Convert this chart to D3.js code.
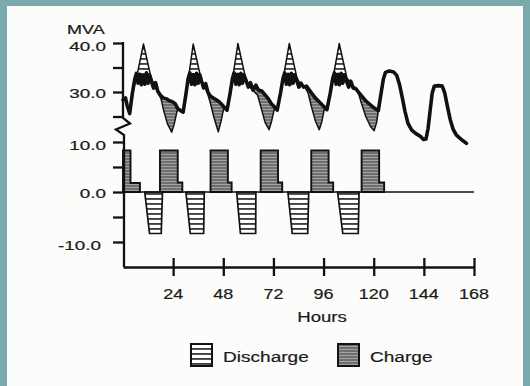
<!DOCTYPE html>
<html>
<head>
<meta charset="utf-8">
<script src="https://cdnjs.cloudflare.com/ajax/libs/d3/7.8.5/d3.min.js"></script>
<style>
body { margin: 0; }
svg { display: block; }
text { font-family: "Liberation Sans", Arial, sans-serif; fill: #1b1b1b; stroke: #1b1b1b; stroke-width: 0.2px; }
</style>
</head>
<body>
<div id="chart-area"></div>
<script>
// load with storage (thick line), [hour, MVA]
var netLoad = [
    [0,28.4],[1.2,28.8],[2,27.2],[3.2,25.6],[4.4,29.5],[5.6,32.6],[6.4,33.8],[7.2,31.8],[8,33.6],[8.8,31.5],[9.6,33.3],[10.4,31.6],[11.2,33.9],[12,31.8],[12.8,33.4],[13.6,32.2],[14.6,30.8],[15.6,31.9],[16.6,30.2],[17.8,29.4],[19.2,28.8],[20.8,28.6],[22.2,28.2],[23.6,28],[25,27.6],[26.2,26.6],[27.6,26.2],[28.8,25.9],
    [30.2,29.8],[31.2,32.8],[32,33.9],[32.8,31.6],[33.6,33.5],[34.4,31.5],[35.2,33.8],[36,31.8],[36.8,33.5],[37.6,32.2],[38.6,30.8],[39.6,31.7],[40.6,30],[41.8,29.2],[43.2,28.8],[44.6,28.4],[46,28],[47.4,27.4],[48.6,26.8],[49.8,26.3],
    [51.2,29.6],[52.4,32.8],[53.2,33.9],[54,31.6],[54.8,33.6],[55.6,31.5],[56.4,33.8],[57.2,31.8],[58,33.4],[59,32.2],[60,31],[61,31.9],[62.2,30.4],[63.6,31.4],[64.8,30.4],[66.4,30.2],[68,29.4],[69.6,28.6],[71,27.6],[72.4,27],[73.8,26.3],
    [75.4,29.8],[76.6,32.8],[77.4,33.9],[78.2,31.6],[79,33.6],[79.8,31.5],[80.6,33.8],[81.4,31.8],[82.2,33.4],[83.2,32.2],[84.2,31],[85.2,31.8],[86.4,31],[87.8,31.2],[89.2,30.4],[90.6,29.6],[92,28.8],[93.4,28.2],[94.8,27.6],[96.2,27],[97.6,26.4],
    [99.2,29.8],[100.4,32.8],[101.2,33.9],[102,31.6],[102.8,33.6],[103.6,31.5],[104.4,33.8],[105.2,31.8],[106,33.4],[107,32.2],[108,31],[109,32.2],[110.2,30.8],[111.6,30.6],[113,29.8],[114.6,29],[116.2,28.2],[117.8,27.6],[119.4,27],[120.8,26.6],[122.2,26.2],
    [123.4,29.4],[124.6,32.6],[125.6,34],[127.5,34.3],[129.5,34.1],[131,33.4],[132.3,31.6],[133.6,29],[135,26],[136.4,23.6],[138.2,22.2],[140.2,21.5],[142.2,21],[143.8,20.3],[145,20.4],[146,22.5],[147,26.2],[148,29.8],[149,31.2],[151,31.3],[152.8,31.2],[154,29.8],[155.2,27.2],[156.6,24.4],[158,22.4],[159.6,21.2],[161.2,20.6],[162.6,20.1],[164.4,19.5]
];

// load without storage (thin line), [hour, MVA]
var baseLoad = [
    [0,28.4],[1.2,28.8],[2,27.2],[3.2,25.6],[4.4,29.5],[6.6,33.2],[9.8,39.8],[13.4,33],[15,31.4],[16.6,30],[18.2,28.6],[19.6,26],[21.2,23.6],[23.3,21.8],[24.6,23.6],[25.8,26],[26.6,26.4],[28.8,25.9],
    [31.2,32.4],[33.6,39.8],[37.2,33],[38.8,31.4],[40.4,29.8],[41.8,27.8],[43.4,25],[45.6,21.9],[46.8,23.8],[48.2,26.6],[49.8,26.3],
    [52.4,32.6],[55,39.9],[58.6,33],[60.4,31.2],[62.4,30.2],[64.4,29.4],[66.2,26.6],[68,23.8],[69.9,22.3],[71.2,24.2],[72.6,26.8],[73.8,26.3],
    [76.6,32.6],[79.6,39.9],[83.2,33],[85,31.4],[87,31],[88.6,29.8],[90.2,27],[92,24.2],[93.9,22.3],[95.2,24],[96.4,26.6],[97.6,26.4],
    [100.4,32.6],[103.5,39.9],[107.1,33],[109,31.6],[111,31],[112.4,30.2],[114.2,27.6],[116.2,25],[118.4,23],[120.2,22.1],[121.4,23.8],[122.2,26.2]
];

// charge: [start, end of full rate, end of tail, full MVA, tail MVA]
var chargeBlocks = [
    [0, 3.6, 8.1, 8.3, 1.8],
    [17.7, 26.2, 28.4, 8.3, 1.9],
    [41.9, 50.2, 52, 8.3, 1.9],
    [65.9, 74.2, 76.2, 8.3, 1.9],
    [90.1, 98.4, 100.6, 8.3, 1.9],
    [114.2, 122.6, 125, 8.3, 1.9]
];

// discharge: [start, ramp end, flat end, end, MVA]
var dischargeBlocks = [
    [10.4, 12.7, 18.3, 18.9, 8.3],
    [30.1, 32.2, 38.6, 38.9, 8.3],
    [54.4, 56.2, 63.5, 63.6, 8.3],
    [78.9, 81, 88.4, 88.9, 8.3],
    [102.7, 105.2, 112.6, 113, 8.3]
];

var xTicks = [24, 48, 72, 96, 120, 144, 168];
var topTicks = [25, 30, 35, 40];
var topLabels = [30, 40];
var bottomTicks = [-10, -5, 0, 5, 10];
var bottomLabels = [-10, 0, 10];
var legendItems = ["Discharge", "Charge"];

var width = 530, height = 386;

var svg = d3.select("#chart-area").append("svg")
    .attr("width", width)
    .attr("height", height);

// slide frame
svg.append("rect").attr("width", width).attr("height", height).attr("fill", "#7aaaae");
svg.append("rect").attr("x", 7).attr("y", 6).attr("width", width - 14).attr("height", height - 6).attr("fill", "#fcfcfa");

var xScale = d3.scaleLinear().domain([0, 168]).range([123, 474]);
var yTop = d3.scaleLinear().domain([20, 40]).range([141, 43]);
var yBottom = d3.scaleLinear().domain([-15, 10]).range([267, 142]);

var defs = svg.append("defs");

var stripes = defs.append("pattern")
    .attr("id", "stripes")
    .attr("patternUnits", "userSpaceOnUse")
    .attr("width", 8)
    .attr("height", 5);
stripes.append("rect").attr("width", 8).attr("height", 5).attr("fill", "#fff");
stripes.append("rect").attr("y", 3.2).attr("width", 8).attr("height", 1.5).attr("fill", "#111");

var shade = defs.append("pattern")
    .attr("id", "shade")
    .attr("patternUnits", "userSpaceOnUse")
    .attr("width", 8)
    .attr("height", 3);
shade.append("rect").attr("width", 8).attr("height", 3).attr("fill", "#6f6f6f");
shade.append("rect").attr("y", 1).attr("width", 8).attr("height", 1).attr("fill", "#a2a2a2");

var hx = function(d) { return xScale(d[0]); };

defs.append("clipPath").attr("id", "above-net")
    .append("path")
    .attr("d", d3.area().x(hx).y0(20).y1(function(d) { return yTop(d[1]); })(netLoad));

defs.append("clipPath").attr("id", "below-net")
    .append("path")
    .attr("d", d3.area().x(hx).y0(function(d) { return yTop(d[1]); }).y1(160)(netLoad));

// discharge: base above net
svg.append("path")
    .attr("d", d3.area().x(hx).y0(function(d) { return yTop(d[1]); }).y1(160)(baseLoad))
    .attr("fill", "url(#stripes)")
    .attr("clip-path", "url(#above-net)");

// charge: net above base
svg.append("path")
    .attr("d", d3.area().x(hx).y0(20).y1(function(d) { return yTop(d[1]); })(baseLoad))
    .attr("fill", "url(#shade)")
    .attr("clip-path", "url(#below-net)");

var topLine = d3.line().x(hx).y(function(d) { return yTop(d[1]); });

svg.append("path")
    .attr("d", topLine(baseLoad))
    .attr("fill", "none")
    .attr("stroke", "#111")
    .attr("stroke-width", 1.5)
    .attr("stroke-linejoin", "round");

svg.append("path")
    .attr("d", topLine(netLoad))
    .attr("fill", "none")
    .attr("stroke", "#111")
    .attr("stroke-width", 3.6)
    .attr("stroke-linejoin", "round")
    .attr("stroke-linecap", "round");

// storage bars
var barLine = d3.line().x(hx).y(function(d) { return yBottom(d[1]); });

svg.selectAll(".charge").data(chargeBlocks).enter().append("path")
    .attr("class", "charge")
    .attr("d", function(b) {
        return barLine([[b[0], 0], [b[0], b[3]], [b[1], b[3]], [b[1], b[4]], [b[2], b[4]], [b[2], 0]]) + "Z";
    })
    .attr("fill", "url(#shade)")
    .attr("stroke", "#111")
    .attr("stroke-width", 1.9);

svg.selectAll(".discharge").data(dischargeBlocks).enter().append("path")
    .attr("class", "discharge")
    .attr("d", function(b) {
        return barLine([[b[0], 0], [b[1], -b[4]], [b[2], -b[4]], [b[3], 0]]) + "Z";
    })
    .attr("fill", "url(#stripes)")
    .attr("stroke", "#111")
    .attr("stroke-width", 1.7);

// zero line
svg.append("line")
    .attr("x1", xScale(0)).attr("x2", xScale(168))
    .attr("y1", yBottom(0)).attr("y2", yBottom(0))
    .attr("stroke", "#111")
    .attr("stroke-width", 1.6);

// axes
var gTop = svg.append("g")
    .attr("transform", "translate(123,0)")
    .call(d3.axisLeft(yTop).tickValues(topTicks).tickSize(10).tickFormat(""));
var gBottom = svg.append("g")
    .attr("transform", "translate(123,0)")
    .call(d3.axisLeft(yBottom).tickValues(bottomTicks).tickSize(10).tickFormat(""));
var gX = svg.append("g")
    .attr("transform", "translate(0," + yBottom(-15) + ")")
    .call(d3.axisBottom(xScale).tickValues(xTicks).tickSize(9).tickSizeOuter(0).tickFormat(""));

gTop.select(".domain").remove();
gBottom.select(".domain").remove();
gX.selectAll(".tick line").attr("y1", -9);
[gTop, gBottom, gX].forEach(function(g) {
    g.selectAll("line, path").attr("stroke", "#111").attr("stroke-width", 2.3);
});

// broken y axis
svg.append("path")
    .attr("d", "M123," + (yTop(40) - 1) + "V118L130,123.5L116,129.5L124,135V" + yBottom(-15))
    .attr("fill", "none")
    .attr("stroke", "#111")
    .attr("stroke-width", 2.3)
    .attr("stroke-linejoin", "miter");

// labels
function wideText(x, y, str, size, sx, anchor) {
    return svg.append("text")
        .attr("transform", "translate(" + x + "," + y + ") scale(" + sx + ",1)")
        .attr("text-anchor", anchor)
        .attr("font-size", size)
        .text(str);
}

wideText(67, 34, "MVA", 12, 1.5, "start");

topLabels.forEach(function(v) {
    wideText(106, yTop(v) + (v === 40 ? 7.5 : 5.5), v.toFixed(1), 13, 1.45, "end");
});
bottomLabels.forEach(function(v) {
    wideText(v < 0 ? 101 : 106, yBottom(v) + (v === 0 ? 5.5 : 7.5), v.toFixed(1), 13, 1.45, "end");
});

xTicks.forEach(function(t) {
    wideText(xScale(t), 299, t, 15, 1.2, "middle");
});
wideText(322, 322, "Hours", 15.5, 1.2, "middle");

// legend
var legendX = [191, 338];
legendItems.forEach(function(name, i) {
    svg.append("rect")
        .attr("x", legendX[i]).attr("y", 344)
        .attr("width", 21).attr("height", 22)
        .attr("fill", i === 0 ? "url(#stripes)" : "url(#shade)")
        .attr("stroke", "#111")
        .attr("stroke-width", 2);
    wideText(legendX[i] + 32, 362, name, 15.5, 1.23, "start");
});
</script>
</body>
</html>
